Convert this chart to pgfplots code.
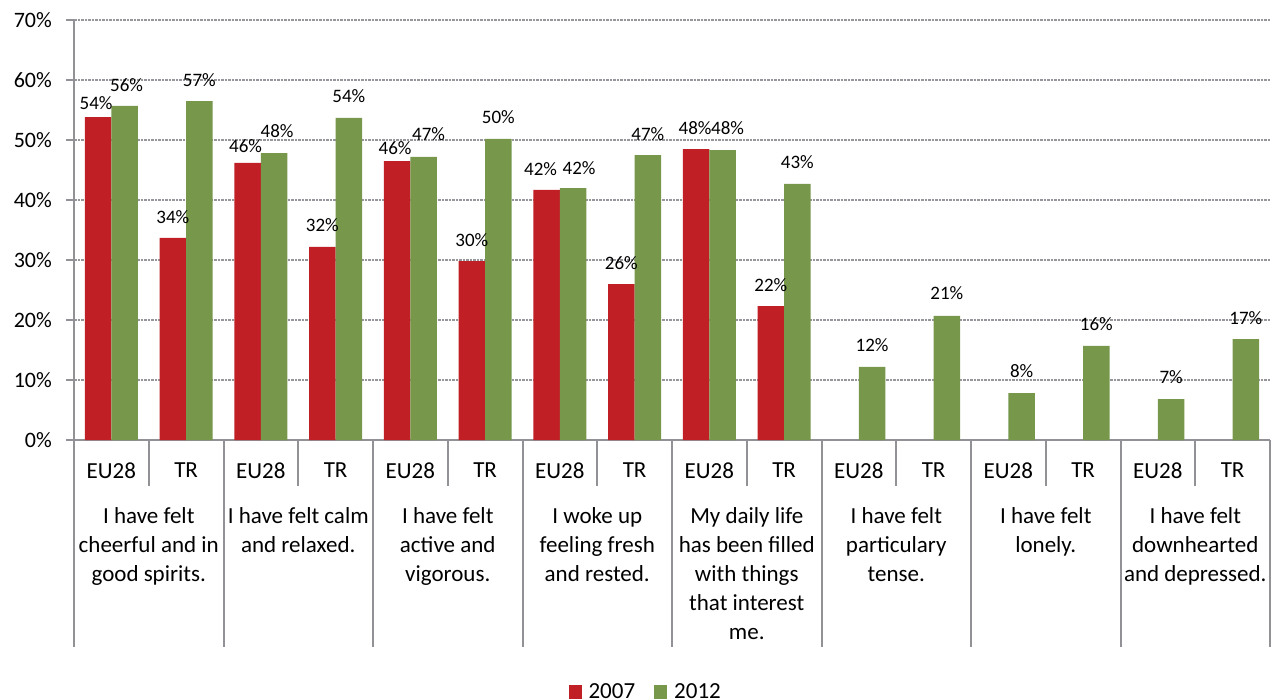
\documentclass[border=0pt]{standalone}
\usepackage{pgfplots}
\pgfplotsset{compat=1.18}
\usepackage{fontspec}
\setmainfont{Carlito}
\definecolor{barred}{RGB}{193,31,38}
\definecolor{bargreen}{RGB}{119,151,75}
\definecolor{axgray}{RGB}{145,145,150}
\definecolor{gridgray}{RGB}{150,150,155}
\begin{document}
\begin{tikzpicture}
\useasboundingbox (0,0) rectangle (1276pt,699pt);
\begin{axis}[
  at={(74pt,259pt)}, anchor=south west,
  scale only axis, width=1196pt, height=420pt,
  xmin=-0.5, xmax=15.5, ymin=0, ymax=70,
  axis lines=left, axis line style={draw=axgray, line width=2pt, -},
  ybar=0pt, bar width=26.5pt,
  ytick={0,10,...,70},
  yticklabel={\pgfmathprintnumber{\tick}\%},
  /pgf/number format/assume math mode=true,
  yticklabel style={font=\fontsize{22}{26}\selectfont, inner sep=0pt, xshift=-14pt},
  ytick style={draw=axgray, line width=1.5pt},
  tick align=outside, major tick length=8pt,
  ymajorgrids, y grid style={draw=gridgray, line width=1.6pt, dash pattern=on 2.5pt off 1pt},
  xtick={0,...,15},
  xticklabels={EU28,TR,EU28,TR,EU28,TR,EU28,TR,EU28,TR,EU28,TR,EU28,TR,EU28,TR},
  xtick style={draw=none},
  xticklabel style={font=\fontsize{23}{28}\selectfont, inner sep=0pt, yshift=-15pt},
  clip=false,
  nodes near coords,
  point meta=explicit symbolic,
  visualization depends on={\thisrow{dx} \as \dx},
  visualization depends on={\thisrow{dy} \as \dy},
  every node near coord/.append style={font=\fontsize{19}{22}\selectfont, inner sep=0pt,
     anchor=base, xshift=\dx pt, yshift=\dy pt-6pt, text=black},
  legend columns=2,
  legend style={at={(0.478,-0.6)}, anchor=center, draw=none, fill=none,
    font=\fontsize{23}{28}\selectfont,
    /tikz/every odd column/.append style={column sep=5pt},
    /tikz/every even column/.append style={column sep=17pt}},
  legend image code/.code={\fill[#1] (0pt,-7pt) rectangle (13pt,7pt);},
]
\addplot[fill=barred, draw=none] table[x=x, y=y, meta=l] {
x y l dx dy
0 53.8 54\% -2 14
1 33.7 34\% 0 20
2 46.2 46\% -2 16
3 32.2 32\% 0 21
4 46.5 46\% -2 13
5 29.8 30\% 0 21
6 41.7 42\% -6 20
7 26.0 26\% 0 21
8 48.5 48\% -1 21
9 22.3 22\% 0 21
};
\addplot[fill=bargreen, draw=none] table[x=x, y=y, meta=l] {
x y l dx dy
0 55.7 56\% 2 20
1 56.5 57\% 0 21
2 47.8 48\% 3 22
3 53.7 54\% 0 21
4 47.2 47\% 5 22
5 50.2 50\% 0 21
6 42.0 42\% 6 20
7 47.5 47\% 0 21
8 48.3 48\% 5 22
9 42.7 43\% 0 21
10 12.2 12\% 0 21
11 20.7 21\% 0 22
12 7.8 8\% 0 22
13 15.7 16\% 0 21
14 6.8 7\% 0 22
15 16.8 17\% 0 21
};
\legend{2007,2012}
\pgfplotsinvokeforeach{-0.5,1.5,3.5,5.5,7.5,9.5,11.5,13.5,15.5}{
  \draw[axgray, line width=2pt] (axis cs:#1,0) -- ++(0pt,-207pt);
}
\pgfplotsinvokeforeach{0.5,2.5,4.5,6.5,8.5,10.5,12.5,14.5}{
  \draw[axgray, line width=2pt] (axis cs:#1,0) -- ++(0pt,-46pt);
}
\tikzset{grp/.style={anchor=north, align=center, inner sep=0pt, yshift=-67pt,
  font=\fontsize{23}{29}\selectfont}}
\node[grp] at (axis cs:0.5,0) {I have felt\\cheerful and in\\good spirits.};
\node[grp] at (axis cs:2.5,0) {I have felt calm\\and relaxed.};
\node[grp] at (axis cs:4.5,0) {I have felt\\active and\\vigorous.};
\node[grp] at (axis cs:6.5,0) {I woke up\\feeling fresh\\and rested.};
\node[grp] at (axis cs:8.5,0) {My daily life\\has been filled\\with things\\that interest\\me.};
\node[grp] at (axis cs:10.5,0) {I have felt\\particulary\\tense.};
\node[grp] at (axis cs:12.5,0) {I have felt\\lonely.};
\node[grp] at (axis cs:14.5,0) {I have felt\\downhearted\\and depressed.};
\end{axis}
\end{tikzpicture}
\end{document}
